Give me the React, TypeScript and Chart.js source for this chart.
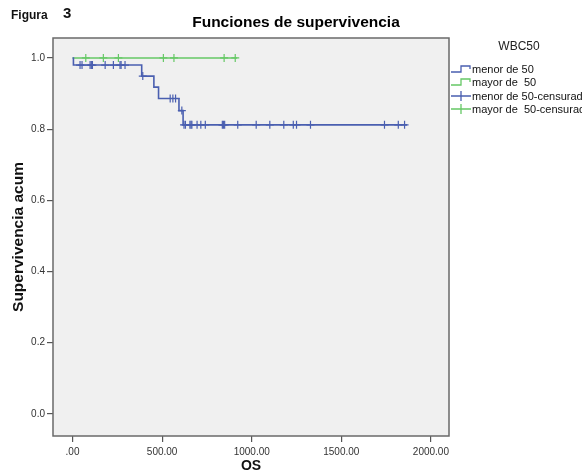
import React, { useEffect, useRef } from 'react';
import { Chart, registerables } from 'chart.js';

Chart.register(...registerables);

const FONT = '"Liberation Sans", Arial, sans-serif';

// Legend / series names
const groupLabels = ['menor de 50', 'mayor de  50'];
const censorLabels = ['menor de 50-censurado', 'mayor de  50-censurado'];
const legendTitle = 'WBC50';
const chartTitle = 'Funciones de supervivencia';
const figureLabel = 'Figura';
const figureNumber = '3';

// Group "menor de 50": step points (time, cumulative survival)
const lowTimes = [0, 5, 386, 454, 480, 594, 617, 1867];
const lowSurv = [1, 0.98, 0.949, 0.918, 0.886, 0.852, 0.812, 0.812];
const lowCensored = [
  42, 53, 98, 105, 111, 182, 228, 265, 271, 293, 392, 545, 560, 575, 610,
  622, 630, 655, 661, 666, 695, 716, 741, 836, 842, 849, 922, 1025, 1101,
  1179, 1232, 1250, 1328, 1741, 1818, 1853,
];

// Group "mayor de 50"
const highTimes = [0, 919];
const highSurv = [1, 1];
const highCensored = [74, 172, 256, 507, 566, 846, 908];

// Axis ticks
const xTickValues = [0, 500, 1000, 1500, 2000];
const xTickLabels = ['.00', '500.00', '1000.00', '1500.00', '2000.00'];
const yTickValues = [0, 0.2, 0.4, 0.6, 0.8, 1.0];
const yTickLabels = ['0.0', '0.2', '0.4', '0.6', '0.8', '1.0'];

const BLUE = '#4a5fb0';
const GREEN = '#66c866';
const FRAME = '#6a6a6a';

function survAt(times: number[], surv: number[], t: number) {
  let v = surv[0];
  for (let i = 0; i < times.length; i++) {
    if (times[i] <= t) v = surv[i];
  }
  return v;
}

function stepPoints(times: number[], surv: number[]) {
  return times.map((t, i) => ({ x: t, y: surv[i] }));
}

function censorPoints(times: number[], surv: number[], cens: number[]) {
  return cens.map((t) => ({ x: t, y: survAt(times, surv, t) }));
}

const decorPlugin = {
  id: 'decor',
  beforeDraw(chart: any) {
    const { ctx, chartArea: a } = chart;
    ctx.save();
    ctx.fillStyle = '#ffffff';
    ctx.fillRect(0, 0, chart.width, chart.height);
    ctx.fillStyle = '#f0f0f0';
    ctx.fillRect(a.left, a.top, a.right - a.left, a.bottom - a.top);
    ctx.restore();
  },
  afterDraw(chart: any) {
    const { ctx, chartArea: a } = chart;
    ctx.save();
    // frame
    ctx.strokeStyle = FRAME;
    ctx.lineWidth = 1.5;
    ctx.strokeRect(a.left, a.top, a.right - a.left, a.bottom - a.top);

    // figure label
    ctx.fillStyle = '#111';
    ctx.textBaseline = 'middle';
    ctx.textAlign = 'left';
    ctx.font = `bold 12px ${FONT}`;
    ctx.fillText(figureLabel, 11, 16);
    ctx.font = `bold 15px ${FONT}`;
    ctx.fillText(figureNumber, 63, 14);

    // title
    ctx.fillStyle = '#000';
    ctx.textAlign = 'center';
    ctx.font = `bold 15.5px ${FONT}`;
    ctx.fillText(chartTitle, 296, 23);

    // legend
    const x0 = a.right + 2;
    ctx.font = `12px ${FONT}`;
    ctx.fillStyle = '#222';
    ctx.fillText(legendTitle, 519, 47);
    const rows = [69, 82, 96, 109];
    const colors = [BLUE, GREEN, BLUE, GREEN];
    const texts = [groupLabels[0], groupLabels[1], censorLabels[0], censorLabels[1]];
    ctx.lineWidth = 1.3;
    rows.forEach((y, i) => {
      ctx.strokeStyle = colors[i];
      ctx.beginPath();
      if (i < 2) {
        ctx.moveTo(x0, y + 3);
        ctx.lineTo(x0 + 10, y + 3);
        ctx.lineTo(x0 + 10, y - 3);
        ctx.lineTo(x0 + 19, y - 3);
        ctx.lineTo(x0 + 19, y);
      } else {
        ctx.moveTo(x0, y);
        ctx.lineTo(x0 + 20, y);
        ctx.moveTo(x0 + 10, y - 5);
        ctx.lineTo(x0 + 10, y + 5);
      }
      ctx.stroke();
      ctx.fillStyle = '#111';
      ctx.textAlign = 'left';
      ctx.font = `11px ${FONT}`;
      ctx.fillText(texts[i], x0 + 21, y + 1);
    });
    ctx.restore();
  },
};

export default function App() {
  const ref = useRef<HTMLCanvasElement | null>(null);

  useEffect(() => {
    if (!ref.current) return;
    const chart = new Chart(ref.current, {
      type: 'scatter',
      data: {
        datasets: [
          {
            label: groupLabels[0],
            data: stepPoints(lowTimes, lowSurv),
            showLine: true,
            stepped: 'before',
            borderColor: BLUE,
            borderWidth: 1.6,
            pointRadius: 0,
            fill: false,
          },
          {
            label: groupLabels[1],
            data: stepPoints(highTimes, highSurv),
            showLine: true,
            stepped: 'before',
            borderColor: GREEN,
            borderWidth: 1.6,
            pointRadius: 0,
            fill: false,
          },
          {
            label: censorLabels[0],
            data: censorPoints(lowTimes, lowSurv, lowCensored),
            showLine: false,
            pointStyle: 'cross',
            pointRadius: 4,
            pointBorderWidth: 1.2,
            borderColor: BLUE,
            backgroundColor: BLUE,
          },
          {
            label: censorLabels[1],
            data: censorPoints(highTimes, highSurv, highCensored),
            showLine: false,
            pointStyle: 'cross',
            pointRadius: 4,
            pointBorderWidth: 1.2,
            borderColor: GREEN,
            backgroundColor: GREEN,
          },
        ],
      },
      options: {
        animation: false,
        responsive: false,
        layout: { padding: { top: 38, right: 133, left: 0, bottom: 0 } },
        plugins: {
          legend: { display: false },
          title: { display: false },
          tooltip: { enabled: false },
        },
        scales: {
          x: {
            type: 'linear',
            min: -109,
            max: 2101,
            afterFit: (s: any) => {
              s.height = 38;
            },
            afterBuildTicks: (s: any) => {
              s.ticks = xTickValues.map((v) => ({ value: v }));
            },
            grid: {
              display: true,
              drawOnChartArea: false,
              drawTicks: true,
              tickLength: 6,
              color: '#555',
              lineWidth: 1.2,
            },
            border: { display: false },
            ticks: {
              autoSkip: false,
              maxRotation: 0,
              padding: 4,
              color: '#333',
              font: { family: FONT, size: 10 },
              callback: (_v: any, i: number) => xTickLabels[i],
            },
            title: {
              display: true,
              text: 'OS',
              color: '#111',
              font: { family: FONT, size: 14, weight: 'bold' },
              padding: { top: 0, bottom: -1 },
            },
          },
          y: {
            type: 'linear',
            min: -0.062,
            max: 1.056,
            afterFit: (s: any) => {
              s.width = 53;
            },
            afterBuildTicks: (s: any) => {
              s.ticks = yTickValues.map((v) => ({ value: v }));
            },
            grid: {
              display: true,
              drawOnChartArea: false,
              drawTicks: true,
              tickLength: 6,
              color: '#555',
              lineWidth: 1.2,
            },
            border: { display: false },
            ticks: {
              autoSkip: false,
              padding: 2,
              color: '#333',
              font: { family: FONT, size: 10 },
              callback: (_v: any, i: number) => yTickLabels[i],
            },
            title: {
              display: true,
              text: 'Supervivencia acum',
              color: '#111',
              font: { family: FONT, size: 15.5, weight: 'bold' },
              padding: { top: 9, bottom: 0 },
            },
          },
        },
      },
      plugins: [decorPlugin],
    } as any);
    return () => chart.destroy();
  }, []);

  return (
    <div style={{ position: 'fixed', left: 0, top: 0, width: 582, height: 474, background: '#fff' }}>
      <canvas ref={ref} width={582} height={474} style={{ display: 'block' }} />
    </div>
  );
}
